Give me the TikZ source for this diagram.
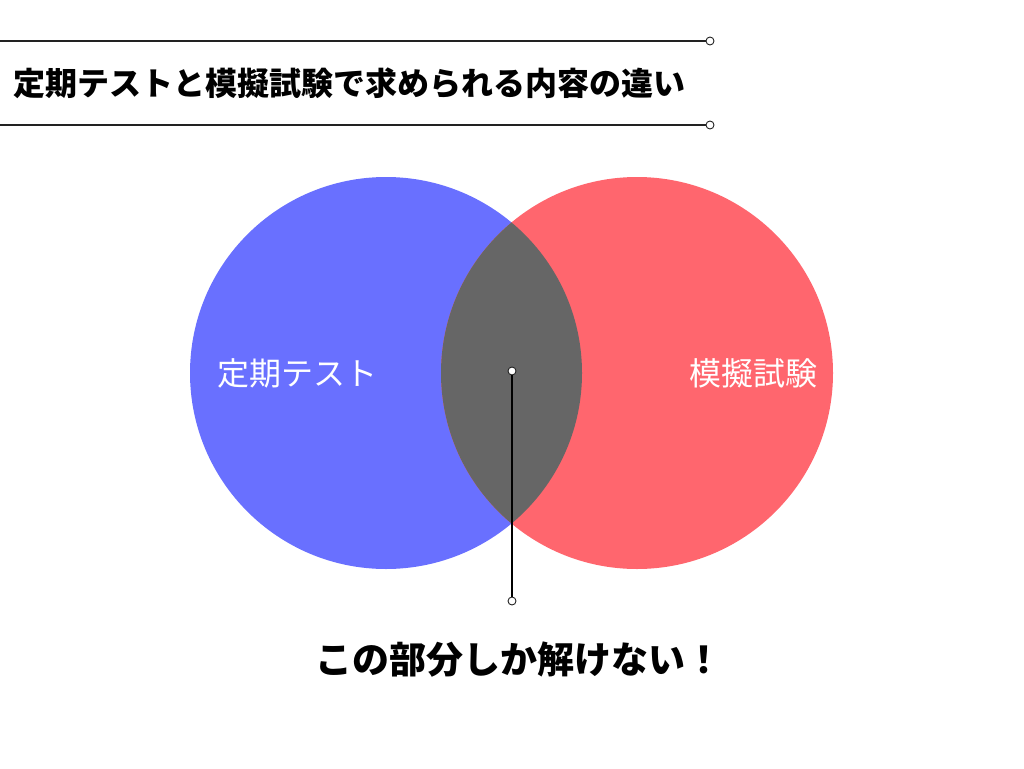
\documentclass[tikz,border=0pt]{standalone}
\usepackage{fontspec}
\newfontfamily\jp{Noto Sans CJK JP}
\definecolor{cblue}{HTML}{6970FF}
\definecolor{cred}{HTML}{FF666E}
\definecolor{cgray}{HTML}{666666}
\definecolor{cline}{HTML}{222222}
\tikzset{
  dot/.style={circle,draw=cline,fill=white,line width=0.9pt,inner sep=0pt,minimum size=8pt},
  rule/.style={draw=cline,line width=1.3pt},
  venn/.style={circle,inner sep=0pt,minimum size=392pt},
  title/.style={font=\jp\bfseries\fontsize{32}{36}\selectfont,text=black,inner sep=0pt},
  label/.style={font=\jp\fontsize{32}{36}\selectfont,text=white,inner sep=0pt},
}
\begin{document}
\begin{tikzpicture}[x=1pt,y=-1pt]
\useasboundingbox (0,0) rectangle (1024,768);
% title rules
\coordinate (t1s) at (0,41);
\node[dot] (t1e) at (710,41) {};
\coordinate (t2s) at (0,125);
\node[dot] (t2e) at (710,125) {};
\draw[rule] (t1s) -- (t1e.west);
\draw[rule] (t2s) -- (t2e.west);
\node[title,anchor=west] (title) at (13,83) {定期テストと模擬試験で求められる内容の違い};
% venn
\node[venn,fill=cblue] (L) at (386,373) {};
\node[venn,fill=cred] (R) at (637,373) {};
\begin{scope}
  \clip (386,373) circle (196);
  \fill[cgray] (637,373) circle (196);
\end{scope}
\node[label] (lt) at (297,373) {定期テスト};
\node[label] (rt) at (753,373) {模擬試験};
% pointer
\node[dot] (ptop) at (512,371) {};
\node[dot] (pbot) at (512,601) {};
\draw[draw=black,line width=1.1pt] (ptop.south) -- (pbot.north);
\node[font=\jp\bfseries\fontsize{37}{42}\selectfont,text=black,inner sep=0pt] (cap) at (519,660) {この部分しか解けない！};
\end{tikzpicture}
\end{document}
